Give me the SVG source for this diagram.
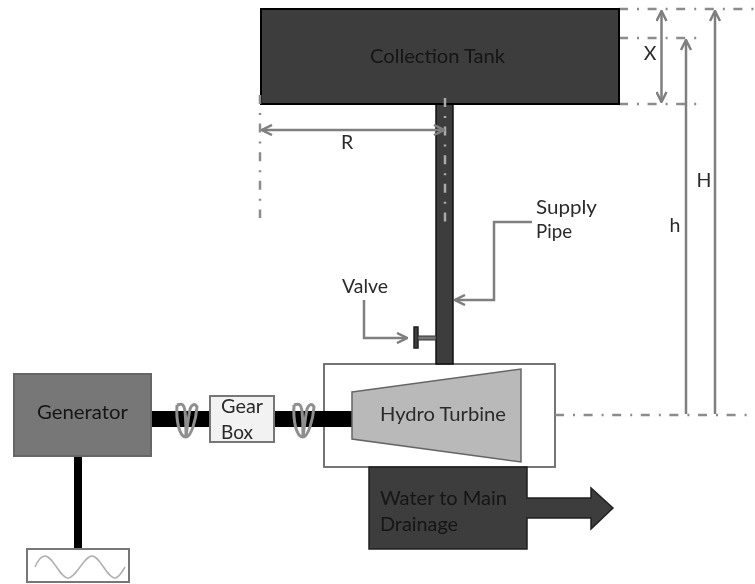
<svg xmlns="http://www.w3.org/2000/svg" width="755" height="584" viewBox="0 0 755 584">
<defs>
<marker id="ah" viewBox="0 0 12 12" refX="11" refY="6" markerWidth="12" markerHeight="12" markerUnits="userSpaceOnUse" orient="auto-start-reverse"><path d="M1 1L11 6L1 11" fill="none" stroke="#7f7f7f" stroke-width="2.500"/></marker>
<filter id="soft" x="-2%" y="-2%" width="104%" height="104%"><feGaussianBlur stdDeviation="0.5"/></filter>
</defs>
<style>
text{font-family:Lato,"Open Sans","Liberation Sans",sans-serif;font-size:19.5px;fill:#2a2a2a}
.dark{fill:#161616}
.arr{stroke:#7f7f7f;stroke-width:2.500;fill:none;marker-end:url(#ah)}
.arr2{stroke:#7f7f7f;stroke-width:2.500;fill:none;marker-end:url(#ah);marker-start:url(#ah)}
.dd{stroke:#8c8c8c;stroke-width:2.500;fill:none;stroke-dasharray:9 9 2 8.600}
.coil{fill:none;stroke:#8f8f8f;stroke-width:3}
</style>
<rect width="755" height="584" fill="#fff"/>
<g filter="url(#soft)">
<g id="turbine-housing"><rect x="324" y="364" width="231" height="103" fill="#fff" stroke="#666" stroke-width="1.800"/></g>
<g id="connectors">
<rect x="151" y="411" width="201" height="16" fill="#000"/>
<rect x="74" y="456" width="8" height="93" fill="#000"/>
<path class="coil" d="M177 405C176 420 179 437 186 437C191 437 196 420 197 407C195 403 192 404 190 409C188 419 187 430 186 437"/>
<path class="coil" d="M177 405C183 403 184 405 185 411C186 421 186 430 186 437"/>
<path class="coil" d="M294 405C293 420 296 437 303 437C308 437 313 420 314 407C312 403 309 404 307 409C305 419 304 430 303 437"/>
<path class="coil" d="M294 405C300 403 301 405 302 411C303 421 303 430 303 437"/>
<path class="dd" d="M619 9H755"/>
<path class="dd" d="M619 38H697"/>
<path class="dd" d="M619 104H697"/>
<path class="dd" d="M555 415H755"/>
<path class="arr2" d="M661.500 11V102"/>
<path class="arr" d="M686 414V40"/>
<path class="arr" d="M715 414V11"/>
</g>
<g id="supply-pipe"><rect x="436" y="104" width="17" height="260" fill="#3c3c3c" stroke="#111" stroke-width="1.500"/></g>
<g id="collection-tank"><rect x="261" y="9" width="358" height="95" fill="#3c3c3c" stroke="#000" stroke-width="2"/><text class="dark" x="370" y="63" textLength="135" lengthAdjust="spacingAndGlyphs">Collection Tank</text></g>
<g id="generator"><rect x="14" y="374" width="137" height="82" fill="#777" stroke="#666" stroke-width="2"/><text class="dark" x="37" y="419" textLength="91" lengthAdjust="spacingAndGlyphs">Generator</text></g>
<g id="gear-box"><rect x="210" y="396" width="64" height="46" fill="#f2f2f2" stroke="#777" stroke-width="2"/><text x="221" y="413" textLength="42" lengthAdjust="spacingAndGlyphs">Gear</text><text x="221" y="439" textLength="32" lengthAdjust="spacingAndGlyphs">Box</text></g>
<g id="waveform"><rect x="27" y="549" width="102" height="33" fill="#fff" stroke="#777" stroke-width="2"/><path d="M35 567C38 560 41 556 45 556C53 556 60 578 68 578C76 578 84 556 92 556C100 556 107 578 115 578C119 578 122 572 125 567" fill="none" stroke="#b0b0b0" stroke-width="1.500"/></g>
<g id="hydro-turbine"><path d="M352 392L521 369V462L352 439Z" fill="#b9b9b9" stroke="#666" stroke-width="1.500"/><text x="380" y="421" textLength="126" lengthAdjust="spacingAndGlyphs">Hydro Turbine</text></g>
<g id="water-drainage"><path d="M369 467H527V498H591V488L613 508L591 529V518H527V549H369Z" fill="#3c3c3c" stroke="#222" stroke-width="1.500"/><text class="dark" x="380" y="505" textLength="127" lengthAdjust="spacingAndGlyphs">Water to Main</text><text class="dark" x="380" y="531" textLength="78" lengthAdjust="spacingAndGlyphs">Drainage</text></g>
<g id="valve"><rect x="414" y="327" width="4" height="21" fill="#3c3c3c" stroke="#222" stroke-width="1.500"/><rect x="418" y="336" width="18" height="4" fill="#777" stroke="#333" stroke-width="1"/><text x="342" y="293" textLength="46" lengthAdjust="spacingAndGlyphs">Valve</text><path class="arr" d="M364 300V338H407"/></g>
<g id="supply-label"><text x="536" y="214" textLength="61" lengthAdjust="spacingAndGlyphs">Supply</text><text x="536" y="238" textLength="36" lengthAdjust="spacingAndGlyphs">Pipe</text><path class="arr" d="M532 222H494V300H455"/></g>
<g id="dimensions">
<path class="dd" d="M260 95V218"/>
<path class="dd" d="M445 98V222" style="stroke:#aaa"/>
<path class="arr2" d="M262 130H444"/>
<text x="347" y="149" text-anchor="middle">R</text>
<text x="650" y="60" text-anchor="middle">X</text>
<text x="675" y="232" text-anchor="middle">h</text>
<text x="704" y="187" text-anchor="middle">H</text>
</g>
</g>
</svg>
